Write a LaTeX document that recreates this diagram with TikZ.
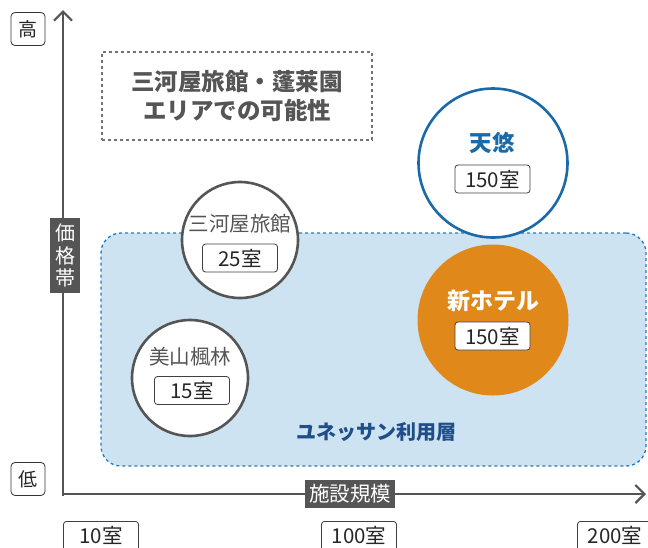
\documentclass[tikz,border=0pt]{standalone}
\usepackage{fontspec}
\setmainfont{Noto Sans CJK JP}
\usetikzlibrary{arrows.meta}
\definecolor{axisgray}{HTML}{555555}
\definecolor{txtgray}{HTML}{555555}
\definecolor{tenblue}{HTML}{1A6AAA}
\definecolor{hotelorange}{HTML}{E0891A}
\definecolor{zonefill}{HTML}{CDE3F1}
\definecolor{zoneline}{HTML}{1F7CC4}
\definecolor{zonetext}{HTML}{1F4E89}
\tikzset{
  roomtag/.style={draw=black!75, line width=0.8pt, fill=white, rounded corners=3pt,
    minimum width=75pt, minimum height=28pt, inner sep=0pt, font=\fontsize{20.5}{22}\selectfont, text=black!85},
  levelbox/.style={draw=black!80, line width=0.8pt, fill=white, rounded corners=4pt,
    minimum width=34pt, minimum height=33pt, inner sep=0pt, font=\fontsize{19}{21}\selectfont, text=black!85},
  axislabel/.style={fill=axisgray, text=white, inner sep=0pt, font=\fontsize{20.5}{23}\selectfont},
  hotelcircle/.style={circle, inner sep=0pt, line width=2.6pt},
  hotelname/.style={font=\fontsize{20.5}{22}\selectfont, text=txtgray},
  axisline/.style={draw=axisgray, line width=2.8pt, -{Straight Barb[length=9pt,width=18pt,line width=2.2pt]}},
}
\begin{document}
\begin{tikzpicture}[x=1pt,y=-1pt]
\useasboundingbox (0,0) rectangle (648,547);
\clip (0,0) rectangle (648,547);
% zone
\node[draw=zoneline, fill=zonefill, dashed, line width=1.3pt, rounded corners=20pt,
  minimum width=545pt, minimum height=233pt, inner sep=0pt] (zone) at (373.5,349.5) {};
\node[font=\bfseries\fontsize{20}{22}\selectfont, text=zonetext] (zonelabel) at (376,432) {ユネッサン利用層};
% dashed area box
\node[draw=black!55, dashed, line width=1.1pt, minimum width=270pt, minimum height=88pt,
  align=center, font=\bfseries\fontsize{23.5}{29}\selectfont, text=txtgray] (area) at (237,96)
  {三河屋旅館・蓬莱園\\エリアでの可能性};
% axes
\coordinate (origin) at (63,494);
\coordinate (ytop) at (63,10);
\coordinate (xend) at (646,494);
\draw[axisline] (origin |- 0,496) -- (ytop);
\draw[axisline] (61.6,494) -- (xend);
% axis labels
\node[axislabel, minimum width=30pt, minimum height=75pt, align=center, font=\fontsize{20}{22.5}\selectfont] (price) at (65,255.5) {価\\格\\帯};
\node[axislabel, minimum width=90pt, minimum height=28pt] (scale) at (350,494) {施設規模};
\node[levelbox] (high) at (28,29) {高};
\node[levelbox] (low) at (28,479) {低};
% tick labels (cut at image edge)
\node[roomtag, minimum height=40pt, anchor=north] (t10) at (101,521) {};
\node[font=\fontsize{20.5}{22}\selectfont, text=black!85] (t10l) at (101,535.5) {10室};
\node[roomtag, minimum height=40pt, anchor=north] (t100) at (359,521) {};
\node[font=\fontsize{20.5}{22}\selectfont, text=black!85] (t100l) at (359,535.5) {100室};
\node[roomtag, minimum height=40pt, anchor=north] (t200) at (615,521) {};
\node[font=\fontsize{20.5}{22}\selectfont, text=black!85] (t200l) at (615,535.5) {200室};
% Tenyu
\node[hotelcircle, draw=tenblue, fill=white, minimum size=149pt] (tenyu) at (493,163) {};
\node[font=\bfseries\fontsize{22.5}{24}\selectfont, text=tenblue] (tenyuname) at (492,143) {天悠};
\node[roomtag] (tenyuroom) at (492.5,179) {150室};
% New hotel
\node[circle, inner sep=0pt, fill=hotelorange, minimum size=151pt] (newh) at (493,320) {};
\node[font=\bfseries\fontsize{23}{25}\selectfont, text=white] (newhname) at (493,301) {新ホテル};
\node[roomtag] (newhroom) at (492.5,336) {150室};
% Mikawaya
\node[hotelcircle, draw=axisgray, fill=white, minimum size=116pt] (mikawa) at (240,240) {};
\node[hotelname] (mikawaname) at (240,224) {三河屋旅館};
\node[roomtag] (mikawaroom) at (240,258) {25室};
% Miyama
\node[hotelcircle, draw=axisgray, fill=white, minimum size=116pt] (miyama) at (190,378) {};
\node[hotelname] (miyamaname) at (190,357) {美山楓林};
\node[roomtag] (miyamaroom) at (192,390.5) {15室};
\end{tikzpicture}
\end{document}
